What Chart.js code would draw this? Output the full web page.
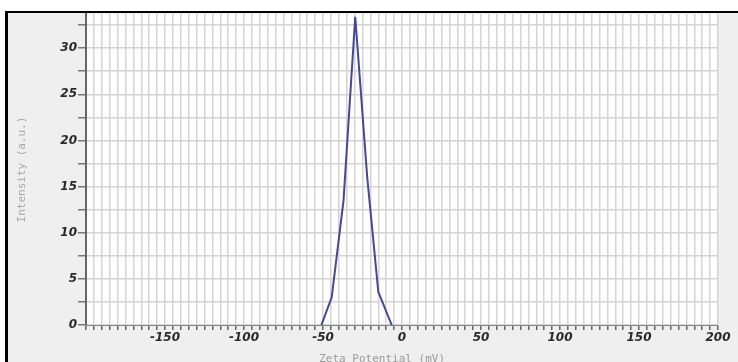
<!DOCTYPE html>
<html>
<head>
<meta charset="utf-8">
<script src="https://cdn.jsdelivr.net/npm/chart.js@4"></script>
<style>
  html, body { margin: 0; padding: 0; background: #fff; overflow: hidden; }
  canvas { display: block; }
</style>
</head>
<body>
<canvas id="chart" width="738" height="368"></canvas>
<script>
// DATA
const zetaMv = [-51, -44.5, -37, -29.6, -22, -15, -6.5];
const intensity = [0, 3, 13.5, 33.4, 16, 3.6, 0];
const xTickLabels = [-150, -100, -50, 0, 50, 100, 150, 200];
const yTickLabels = [0, 5, 10, 15, 20, 25, 30];

const points = zetaMv.map((x, i) => ({ x: x, y: intensity[i] }));

// background, frame and white plot area
const frame = {
    id: "frame",
    beforeDraw(chart) {
        const ctx = chart.ctx;
        const a = chart.chartArea;
        ctx.save();
        ctx.fillStyle = "#ffffff";
        ctx.fillRect(0, 0, chart.width, chart.height);
        ctx.fillStyle = "#efefef";
        ctx.fillRect(7, 12, chart.width - 7, chart.height - 12);
        ctx.strokeStyle = "#000";
        ctx.lineWidth = 2;
        ctx.beginPath();
        ctx.moveTo(5, 12);
        ctx.lineTo(chart.width, 12);
        ctx.stroke();
        ctx.lineWidth = 3;
        ctx.beginPath();
        ctx.moveTo(6.5, 11);
        ctx.lineTo(6.5, chart.height);
        ctx.stroke();
        ctx.fillStyle = "#ffffff";
        ctx.fillRect(a.left, a.top, a.right - a.left, a.bottom - a.top);
        ctx.restore();
    }
};

const tickFont = { family: "DejaVu Sans", size: 12, style: "italic", weight: "bold" };
const titleFont = { family: "DejaVu Sans Mono", size: 11 };

new Chart(document.getElementById("chart"), {
    type: "line",
    data: {
        datasets: [{
            data: points,
            borderColor: "#4646a0",
            borderWidth: 2,
            pointRadius: 0,
            tension: 0,
            fill: false
        }]
    },
    options: {
        responsive: false,
        animation: false,
        layout: { padding: { top: 14, right: 20, bottom: 0, left: 0 } },
        plugins: { legend: { display: false }, tooltip: { enabled: false } },
        scales: {
            x: {
                type: "linear",
                min: -200,
                max: 200,
                afterFit: s => { s.height = 43; },
                border: { color: "#888", width: 1 },
                grid: { color: "#d4d4d4", lineWidth: 1.5, tickLength: 5, tickColor: "#666" },
                ticks: {
                    stepSize: 5,
                    autoSkip: false,
                    maxRotation: 0,
                    padding: 1,
                    color: "#2a2a2a",
                    font: tickFont,
                    callback: v => xTickLabels.includes(v) ? String(v) : ""
                },
                title: {
                    display: true,
                    // trailing spaces nudge the centred title left like the original
                    text: "Zeta Potential (mV)\u00a0\u00a0\u00a0\u00a0\u00a0\u00a0",
                    color: "#9a9a9a",
                    font: titleFont,
                    padding: { top: 2, bottom: 2 }
                }
            },
            y: {
                min: 0,
                max: 33.7,
                afterFit: s => { s.width = 86; },
                border: { color: "#666", width: 2 },
                grid: { color: "#d4d4d4", lineWidth: 1.5, tickLength: 8, tickColor: "#777" },
                ticks: {
                    stepSize: 2.5,
                    includeBounds: false,
                    autoSkip: false,
                    padding: 1,
                    color: "#2a2a2a",
                    font: tickFont,
                    callback: v => yTickLabels.includes(v) ? String(v) : ""
                },
                title: {
                    display: true,
                    text: "Intensity (a.u.)",
                    color: "#a8a8a8",
                    font: titleFont,
                    padding: { top: 16, bottom: 0 }
                }
            }
        }
    },
    plugins: [frame]
});
</script>
</body>
</html>
